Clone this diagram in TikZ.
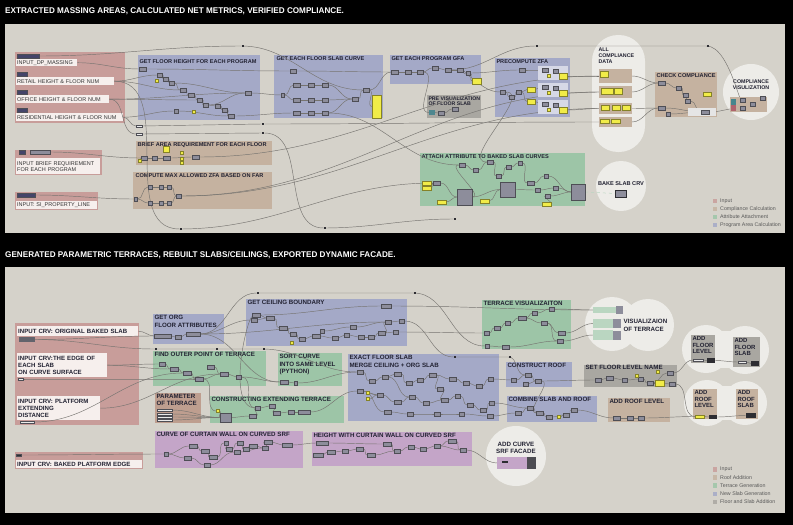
\documentclass[tikz,border=0pt]{standalone}
\usepackage{fontspec}
\setmainfont{Liberation Sans}
\newfontfamily\headfont{Liberation Sans}[FakeStretch=0.98]
\usetikzlibrary{positioning,calc}
\definecolor{canvas}{RGB}{213,210,202}
\definecolor{inpink}{RGB}{200,157,154}
\definecolor{progblue}{RGB}{164,169,199}
\definecolor{compbrown}{RGB}{197,178,160}
\definecolor{parbrown}{RGB}{190,158,143}
\definecolor{attgreen}{RGB}{157,197,167}
\definecolor{visgrey}{RGB}{169,167,161}
\definecolor{wallpurple}{RGB}{196,165,200}
\definecolor{panelyel}{RGB}{241,236,72}
\definecolor{compgrey}{RGB}{141,141,155}
\definecolor{compdark}{RGB}{45,45,50}
\definecolor{bubblec}{RGB}{237,236,232}
\definecolor{labwhite}{RGB}{246,239,237}
\definecolor{wirec}{RGB}{118,116,112}
\definecolor{titlec}{RGB}{34,34,50}
\pgfdeclarelayer{grouplayer}
\pgfdeclarelayer{wirelayer}
\pgfsetlayers{grouplayer,wirelayer,main}
\tikzset{
  grp/.style={anchor=north west,inner sep=0pt,outer sep=0pt},
  gtitle/.style={anchor=north west,inner sep=1.3pt,align=left,text=titlec,font=\bfseries\fontsize{5.6}{6.1}\selectfont},
  btitle/.style={gtitle,font=\bfseries\fontsize{6.2}{7.2}\selectfont},
  inlab/.style={anchor=north west,fill=labwhite,inner sep=1pt,align=left,text=black!80,font=\fontsize{5.5}{6}\selectfont},
  binlab/.style={inlab,text=titlec,font=\bfseries\fontsize{6.1}{7.3}\selectfont},
  comp/.style={fill=compgrey,draw=compgrey!55!black,line width=0.25pt,inner sep=0pt,minimum height=3.6pt},
  box/.style={anchor=north west,inner sep=0pt,outer sep=0pt,line width=0.25pt},
  wcomp/.style={comp,fill=white!92!black,minimum height=2.4pt},
  relay/.style={fill=compdark,inner sep=0pt,minimum width=2.6pt,minimum height=1.6pt},
  ybit/.style={fill=panelyel,draw=panelyel!55!black,line width=0.25pt,inner sep=0pt,minimum width=3.2pt,minimum height=3.2pt},
  ypanel/.style={box,fill=panelyel,draw=panelyel!55!black},
  bubble/.style={fill=bubblec,inner sep=0pt},
  wire/.style={draw=wirec,line width=0.45pt},
  dotwire/.style={draw=attgreen!70!white,dashed,line width=0.5pt},
  legbox/.style={minimum size=4.6pt,inner sep=0pt},
  legtxt/.style={anchor=west,inner sep=1pt,text=black!65,font=\fontsize{5.3}{6}\selectfont},
  headline/.style={anchor=base west,inner sep=0pt,text=white,font=\headfont\bfseries\fontsize{8.3}{9}\selectfont}
}

\begin{document}
\begin{tikzpicture}[x=1pt,y=-1pt]
  \useasboundingbox (0,0) rectangle (793,525);
  \begin{pgfonlayer}{grouplayer}
  \fill[black] (0,0) rectangle (793,525);
  \node[headline] (head1) at (5,13) {EXTRACTED MASSING AREAS, CALCULATED NET METRICS, VERIFIED COMPLIANCE.};
  \node[headline] (head2) at (5,257) {GENERATED PARAMETRIC TERRACES, REBUILT SLABS/CEILINGS, EXPORTED DYNAMIC FACADE.};
  \fill[canvas] (5,24) rectangle (785,233);
  \fill[canvas] (5,267) rectangle (785,513);

  % top canvas: groups
  \node[bubble,rounded corners=26pt,minimum width=53,minimum height=117] (gall) at (618.5,93.5) {};
  \node[bubble,circle,minimum size=56] (gcv) at (751,92) {};
  \node[bubble,circle,minimum size=50] (gbk) at (621,186) {};
  \node[grp,fill=inpink,minimum width=110,minimum height=71] (gin) at (15,52) {};
  \node[grp,fill=progblue,minimum width=122,minimum height=65] (gfh) at (138,55) {};
  \node[gtitle] (tfh) at (138,58) {GET FLOOR HEIGHT FOR EACH PROGRAM};
  \node[grp,fill=progblue,minimum width=109,minimum height=63] (gfs) at (274,55) {};
  \node[gtitle] (tfs) at (275,55) {GET EACH FLOOR SLAB CURVE};
  \node[grp,fill=progblue,minimum width=91,minimum height=29] (ggfa) at (390,55) {};
  \node[gtitle] (tgfa) at (390,55) {GET EACH PROGRAM GFA};
  \node[grp,fill=visgrey,minimum width=54,minimum height=23] (gpv) at (427,95) {};
  \node[gtitle,font=\bfseries\fontsize{5.2}{5.8}\selectfont] (tpv) at (427,95) {PRE VISUALIZATION\\OF FLOOR SLAB};
  \node[grp,fill=progblue,minimum width=75,minimum height=59] (gzfa) at (495,58) {};
  \node[gtitle] (tzfa) at (495,58) {PRECOMPUTE ZFA};
  \node[grp,fill=compbrown,minimum width=62,minimum height=45] (gcc) at (655,72) {};
  \node[gtitle] (tcc) at (655,72) {CHECK COMPLIANCE};
  \node[gtitle,font=\bfseries\fontsize{5.3}{6}\selectfont] (tall) at (597,46) {ALL\\COMPLIANCE\\DATA};
  \node[gtitle,anchor=center,align=center,font=\bfseries\fontsize{5.3}{6}\selectfont] (tcv) at (751,85) {COMPLIANCE\\VISULIZATION};
  \node[gtitle,anchor=center,font=\bfseries\fontsize{5.6}{6}\selectfont] (tbk) at (621,184) {BAKE SLAB CRV};
  \node[grp,fill=compbrown,minimum width=136,minimum height=24] (gbr) at (136,141) {};
  \node[gtitle] (tbr) at (136,141) {BRIEF AREA REQUIREMENT FOR EACH FLOOR};
  \node[grp,fill=compbrown,minimum width=139,minimum height=37] (gcz) at (133,172) {};
  \node[gtitle] (tcz) at (134,172) {COMPUTE MAX ALLOWED ZFA BASED ON FAR};
  \node[grp,fill=inpink,minimum width=87,minimum height=25] (gib) at (15,150) {};
  \node[grp,fill=inpink,minimum width=83,minimum height=18] (gip) at (15,192) {};
  \node[grp,fill=attgreen,minimum width=165,minimum height=53] (gat) at (420,153) {};
  \node[gtitle] (tat) at (420,153) {ATTACH ATTRIBUTE TO BAKED SLAB CURVES};
  % input labels
  \node[inlab,text width=59,minimum height=7] (l1) at (16,59) {INPUT\_DP\_MASSING};
  \node[inlab,text width=96,minimum height=8] (l2) at (16,77) {RETAIL HEIGHT \& FLOOR NUM};
  \node[inlab,text width=91,minimum height=8] (l3) at (16,95) {OFFICE HEIGHT \& FLOOR NUM};
  \node[inlab,text width=105,minimum height=8] (l4) at (16,113) {RESIDENTIAL HEIGHT \& FLOOR NUM};
  \node[inlab,text width=82,minimum height=16] (l5) at (16,158) {INPUT BRIEF REQUIREMENT\\FOR EACH PROGRAM};
  \node[inlab,text width=79,minimum height=8] (l6) at (16,201) {INPUT: SI\_PROPERTY\_LINE};

  % bottom canvas: groups
  \fill[bubblec] (612,305) rectangle (648,344);
  \node[bubble,circle,minimum size=54] (bvt1) at (612,324) {};
  \node[bubble,circle,minimum size=52] (bvt2) at (648,325) {};
  \fill[bubblec] (706,331) rectangle (745,368);
  \node[bubble,circle,minimum size=48] (baf1) at (706,349) {};
  \node[bubble,circle,minimum size=48] (baf2) at (745,350) {};
  \fill[bubblec] (707,386) rectangle (745,420);
  \node[bubble,circle,minimum size=46] (bas1) at (707,403) {};
  \node[bubble,circle,minimum size=44] (bas2) at (745,403) {};
  \node[bubble,circle,minimum size=60] (bac) at (516,456) {};
  \node[grp,fill=inpink,minimum width=124,minimum height=102] (bin) at (15,323) {};
  \node[grp,fill=progblue,minimum width=71,minimum height=30] (bgo) at (153,314) {};
  \node[btitle] (tgo) at (153,314) {GET ORG\\FLOOR ATTRIBUTES};
  \node[grp,fill=progblue,minimum width=161,minimum height=47] (bcb) at (246,299) {};
  \node[btitle] (tcb) at (246,299) {GET CEILING BOUNDARY};
  \node[grp,fill=attgreen,minimum width=113,minimum height=35] (bfo) at (153,351) {};
  \node[btitle] (tfo) at (153,351) {FIND OUTER POINT OF TERRACE};
  \node[grp,fill=attgreen,minimum width=64,minimum height=33] (bsc) at (278,353) {};
  \node[btitle] (tsc) at (278,353) {SORT CURVE\\INTO SAME LEVEL\\(PYTHON)};
  \node[grp,fill=progblue,minimum width=151,minimum height=67] (bef) at (348,354) {};
  \node[btitle] (tef) at (348,354) {EXACT FLOOR SLAB\\MERGE CEILING + ORG SLAB};
  \node[grp,fill=attgreen,minimum width=89,minimum height=49] (btv) at (482,300) {};
  \node[btitle] (ttv) at (482,300) {TERRACE VISUALIZAITON};
  \node[btitle] (tvt) at (622,318) {VISUALIZAION\\OF TERRACE};
  \node[grp,fill=progblue,minimum width=66,minimum height=25] (bcr) at (506,362) {};
  \node[btitle] (tcr) at (506,362) {CONSTRUCT ROOF};
  \node[grp,fill=visgrey,minimum width=93,minimum height=22] (bsf) at (584,365) {};
  \node[btitle] (tsf) at (584,364) {SET FLOOR LEVEL NAME};
  \node[grp,fill=progblue,minimum width=90,minimum height=26] (bcs) at (507,396) {};
  \node[btitle] (tcs) at (507,396) {COMBINE SLAB AND ROOF};
  \node[grp,fill=compbrown,minimum width=62,minimum height=24] (bar) at (608,398) {};
  \node[btitle] (tar) at (608,398) {ADD ROOF LEVEL};
  \node[grp,fill=parbrown,minimum width=46,minimum height=30] (bpt) at (155,393) {};
  \node[btitle] (tpt) at (155,393) {PARAMETER\\OF TERRACE};
  \node[grp,fill=attgreen,minimum width=134,minimum height=27] (bce) at (210,396) {};
  \node[btitle] (tce) at (210,396) {CONSTRUCTING EXTENDING TERRACE};
  \node[grp,fill=wallpurple,minimum width=148,minimum height=37] (bcw) at (155,431) {};
  \node[btitle] (tcw) at (155,431) {CURVE OF CURTAIN WALL ON CURVED SRF};
  \node[grp,fill=wallpurple,minimum width=160,minimum height=34] (bhc) at (312,432) {};
  \node[btitle] (thc) at (312,432) {HEIGHT WITH CURTAIN WALL ON CURVED SRF};
  \node[btitle,anchor=center,align=center] (tac) at (516,448) {ADD CURVE\\SRF FACADE};
  \node[grp,fill=inpink,minimum width=128,minimum height=17] (bpe) at (15,452) {};
  \node[grp,fill=visgrey,minimum width=24,minimum height=28] (bflv) at (691,335) {};
  \node[btitle,font=\bfseries\fontsize{6}{6.4}\selectfont] (tflv) at (691,335) {ADD\\FLOOR\\LEVEL};
  \node[grp,fill=visgrey,minimum width=27,minimum height=30] (bfsl) at (733,337) {};
  \node[btitle,font=\bfseries\fontsize{6}{6.4}\selectfont] (tfsl) at (733,337) {ADD\\FLOOR\\SLAB};
  \node[grp,fill=compbrown,minimum width=24,minimum height=30] (brlv) at (693,389) {};
  \node[btitle,font=\bfseries\fontsize{6}{6.4}\selectfont] (trlv) at (693,389) {ADD\\ROOF\\LEVEL};
  \node[grp,fill=compbrown,minimum width=22,minimum height=30] (brsl) at (736,389) {};
  \node[btitle,font=\bfseries\fontsize{6}{6.4}\selectfont] (trsl) at (736,389) {ADD\\ROOF\\SLAB};
  % input labels
  \node[binlab,text width=119,minimum height=10] (bl1) at (17,326) {INPUT CRV: ORIGINAL BAKED SLAB};
  \node[binlab,text width=88,minimum height=24] (bl2) at (17,353) {INPUT CRV:THE EDGE OF\\EACH SLAB\\ON CURVE SURFACE};
  \node[binlab,text width=81,minimum height=24] (bl3) at (17,396) {INPUT CRV: PLATFORM\\EXTENDING\\DISTANCE};
  \node[binlab,text width=124,minimum height=8] (bl4) at (16,460) {INPUT CRV: BAKED PLATFORM EDGE};

  % legends
  \foreach \k/\c/\t in {1/inpink/Input,2/compbrown/Compliance Calculation,3/attgreen/Attribute Attachment,4/progblue/Program Area Calculation}{
    \node[legbox,fill=\c!85!canvas] (lga\k) at (715,193+8*\k) {};
    \node[legtxt] (lgat\k) at (719,193+8*\k) {\t};
  }
  \foreach \k/\c/\t in {1/inpink/Input,2/compbrown/Roof Addition,3/attgreen/Terrace Generation,4/progblue/New Slab Generation,5/visgrey/Floor and Slab Addition}{
    \node[legbox,fill=\c!85!canvas] (lgb\k) at (715,461+8.2*\k) {};
    \node[legtxt] (lgbt\k) at (719,461+8.2*\k) {\t};
  }
  \end{pgfonlayer}

  % ---- top components ----
  \foreach \n/\x/\y/\w in {i1/28/56/22, i2/22/74/10, i3/22/92/10, i4/22/110/10, ib1/22/152/6, ip1/26/195/18}
    \node[comp,fill=compgrey!80!blue!60!black,minimum width=\w] (\n) at (\x,\y) {};
  \node[comp,minimum width=20] (ib2) at (40,152) {};
  \foreach \n/\x/\y in {w1/139/126, w2/139/134}
    \node[wcomp,minimum width=6] (\n) at (\x,\y) {};
  \foreach \n/\x/\y in {w3/263/124, w4/263/133, r1/181/229, r2/325/228, r3/455/219, d1/243/46, d2/537/46, d3/708/46}
    \node[relay] (\n) at (\x,\y) {};
  \foreach \n/\x/\y/\w in {fa/143/69/7, fb/160/75/5, fc/166/79/5, fd/172/83/5, fe/183/90/6, ff/191/95/6, fg/200/100/5, fh/206/105/5, fi/218/106/5, fj/225/110/5, fk/231/116/6, fl/248/93/6, fm/176/111/4,
      sa/293/71/6, sb/297/85/7, sc/311/85/6, sd/325/85/6, se/297/100/7, sf/311/100/6, sg/325/100/6, sh/297/113/7, si/311/113/6, sj/325/113/6, sk/355/99/6, sl/366/90/6, sm/283/95/3,
      ga/395/72/7, gb/408/72/6, gc/420/72/6, gd/435/68/6, ge/448/70/6, gf/460/70/6, gg/468/73/4, pa/441/113/6, pb/455/109/6,
      za/503/92/5, zb/512/97/5, zc/519/92/5, zd/522/70/6,
      ca/662/83/7, cb/679/88/5, cc/686/95/5, cd/688/101/5, ce/662/108/7, ch/668/114/4,
      ba/144/158/6, bb/155/158/5, bc/167/158/7, bd/196/157/7,
      xh/136/199/3, xa/150/187/4, xb/161/187/4, xc/169/187/4, xd/150/203/4, xe/161/203/4, xf/169/203/4, xg/179/196/5,
      ta/437/183/7, tc/462/165/6, td/476/170/5, te/490/162/6, tf/499/176/5, tg/509/167/5, th/520/163/4, ti/531/183/7, tj/546/176/4, tk/538/190/5, tl/556/188/5, tm/548/196/5}
    \node[comp,minimum width=\w] (\n) at (\x,\y) {};
  \foreach \n/\x/\y in {fy1/157/81, fy2/194/112, bi/140/161, by2/182/153, by3/182/159, by4/182/163}
    \node[ybit] (\n) at (\x,\y) {};
  \node[box,fill=teal!45!compgrey,minimum width=6,minimum height=5] (pvi) at (429,110) {};
  \node[ypanel,minimum width=9,minimum height=23] (sy) at (372,95) {};
  \node[ypanel,minimum width=9,minimum height=6] (gy) at (472,78) {};
  \node[ypanel,minimum width=6,minimum height=6] (by1) at (163,146) {};
  \node[ypanel,minimum width=8,minimum height=5] (zy1) at (527,87) {};
  \node[ypanel,minimum width=8,minimum height=5] (zy2) at (527,99) {};
  \foreach \k/\y in {1/66,2/83,3/100}{
    \node[box,fill=white!55!progblue,minimum width=30,minimum height=14] (zp\k) at (538,\y) {};
    \node[comp,minimum width=6] (zq\k) at (545,\y+4) {};
    \node[comp,minimum width=5] (zr\k) at (556,\y+5) {};
    \node[ybit] (zt\k) at (549,\y+10) {};
    \node[ypanel,minimum width=8,minimum height=6] (zs\k) at (559,\y+7) {};
  }
  % compliance data
  \node[box,fill=compbrown,minimum width=33,minimum height=14] (a1) at (599,69) {};
  \node[box,fill=compbrown,minimum width=33,minimum height=12] (a2) at (599,86) {};
  \node[box,fill=compbrown,minimum width=33,minimum height=11] (a3) at (599,103) {};
  \node[box,fill=compbrown,minimum width=33,minimum height=10] (a4) at (599,117) {};
  \foreach \n/\x/\y/\w/\h in {ay1/600/71/8/6, ay2/601/88/12/6, ay3/614/88/8/6, ay4/601/105/8/5, ay5/612/105/8/5, ay6/622/105/8/5, ay7/600/119/9/4, ay8/611/119/9/4, cy/703/92/8/4}
    \node[ypanel,minimum width=\w,minimum height=\h] (\n) at (\x,\y) {};
  \node[box,fill=white!90!black,minimum width=28,minimum height=8] (ccw) at (688,108) {};
  \node[comp,minimum width=8] (cg) at (705,112) {};
  \node[box,fill=compbrown,minimum width=37,minimum height=15] (vpan) at (730,97) {};
  \node[box,fill=teal!50!compgrey,minimum width=5,minimum height=6] (vi1) at (731,99) {};
  \node[box,fill=red!30!compgrey,minimum width=5,minimum height=6] (vi2) at (731,105) {};
  \foreach \n/\x/\y in {va2/743/100, vb2/743/108, vc2/753/104, vd2/763/98}
    \node[comp,minimum width=5] (\n) at (\x,\y) {};
  % attribute attachment
  \foreach \n/\x/\y in {ty1/422/181, ty2/422/186, ty3/437/200, ty4/480/199, ty5/542/202}
    \node[ypanel,minimum width=9,minimum height=4] (\n) at (\x,\y) {};
  \node[box,fill=compgrey,draw=compgrey!55!black,minimum width=15,minimum height=16] (tb1) at (457,189) {};
  \node[box,fill=compgrey,draw=compgrey!55!black,minimum width=15,minimum height=15] (tb2) at (500,182) {};
  \node[box,fill=compgrey,draw=compgrey!55!black,minimum width=14,minimum height=16] (tb3) at (571,184) {};
  \node[box,fill=compgrey,draw=compdark,line width=1pt,minimum width=11,minimum height=7] (bki) at (615,190) {};

  % ---- bottom components ----
  \node[box,fill=compgrey!70!black,minimum width=16,minimum height=5] (bo) at (19,337) {};
  \node[wcomp,minimum width=5] (bs2) at (21,379) {};
  \node[wcomp,minimum width=14] (bs3) at (27,422) {};
  \node[comp,fill=compdark,minimum width=5,minimum height=2.5] (bp1) at (19,455) {};
  \foreach \n/\x/\y in {q1/258/293, q2/415/293, q3/156/349, q4/217/349, q5/264/349, q6/455/357, q7/510/357}
    \node[relay] (\n) at (\x,\y) {};
  \foreach \n/\x/\y/\w in {go1/163/336/17, go2/178/337/6, go3/193/334/14,
      cb1/256/315/8, cb2/254/320/6, cb3/270/318/8, cb4/283/328/8, cb5/293/334/6, cb6/302/339/6, cb7/316/336/8, cb8/322/331/4, cb9/335/338/6, cb10/347/335/5, cb11/353/327/6, cb12/361/337/6, cb13/371/337/6, cb14/382/333/7, cb15/388/322/6, cb16/396/332/5, cb17/402/321/5, cb18/386/306/10,
      fo1/162/364/6, fo2/174/369/8, fo3/187/373/8, fo4/199/379/8, fo5/211/367/7, fo6/224/374/8, fo7/239/377/5,
      sc1/284/382/8, sc2/296/383/3,
      ef1/360/372/6, ef2/372/381/6, ef3/385/377/6, ef4/398/374/7, ef5/409/383/6, ef6/420/380/6, ef7/433/375/7, ef8/440/389/6, ef9/453/379/7, ef10/466/383/6, ef11/479/386/6, ef12/491/379/5, ef13/360/391/6, ef14/380/395/6, ef15/398/402/7, ef16/412/397/6, ef17/426/403/6, ef18/445/400/7, ef19/458/396/5, ef20/470/405/6, ef21/483/410/6, ef22/492/403/5, ef23/388/412/7, ef24/410/414/6, ef25/437/414/6, ef26/462/414/5, ef27/490/416/6,
      tv1/487/333/5, tv2/497/328/6, tv3/508/323/5, tv4/522/318/8, tv5/535/313/5, tv6/544/323/6, tv7/562/333/7, tv8/560/341/6, tv9/487/346/4, tv10/506/347/7, tv11/552/309/5,
      cr1/514/380/5, cr2/528/375/6, cr3/538/381/6, cr4/526/384/5,
      sf1/598/380/6, sf2/610/378/7, sf3/625/380/5, sf4/641/379/5, sf5/650/383/6, sf6/670/373/6, sf7/672/384/6,
      cs1/518/413/6, cs2/530/408/6, cs3/540/413/7, cs4/549/417/6, cs5/566/415/6, cs6/574/410/6,
      ar1/617/418/7, ar2/630/418/6, ar3/641/418/6,
      ce2/253/416/7, ce3/258/408/5, ce4/272/406/6, ce5/277/413/7, ce6/291/412/6, ce7/304/412/12,
      cw1/166/454/4, cw2/193/446/8, cw3/205/451/8, cw4/188/458/7, cw5/213/457/8, cw6/207/465/6, cw7/229/449/6, cw8/240/443/6, cw9/246/449/6, cw10/253/446/8, cw11/265/448/6, cw12/268/442/8, cw13/287/445/10, cw14/226/443/4, cw15/237/452/6,
      hc1/322/443/12, hc2/331/452/8, hc3/345/451/6, hc4/360/449/7, hc5/371/455/8, hc6/387/444/8, hc7/397/451/6, hc8/411/447/6, hc9/423/449/6, hc10/437/446/6, hc11/452/441/8, hc12/463/450/6, hc13/318/455/10}
    \node[comp,minimum width=\w] (\n) at (\x,\y) {};
  \foreach \n/\x/\y in {cby/292/343, efy1/368/393, efy2/368/399, sfy1/637/376, sfy2/658/372, csy/559/417, cey/218/411}
    \node[ybit] (\n) at (\x,\y) {};
  \node[ypanel,minimum width=9,minimum height=6] (sfy3) at (655,380) {};
  \node[box,fill=compgrey,draw=compgrey!55!black,minimum width=11,minimum height=9] (ce1) at (220,413) {};
  \foreach \k/\y in {1/410,2/414,3/417,4/420}
    \node[wcomp,minimum width=15,minimum height=2] (s\k) at (164.5,\y) {};
  % visualisation of terrace
  \node[box,fill=attgreen!70!white,minimum width=23,minimum height=6] (v1) at (593,307) {};
  \node[box,fill=compgrey,minimum width=7,minimum height=8] (v1b) at (616,306) {};
  \node[box,fill=attgreen!70!white,minimum width=20,minimum height=9] (v2) at (593,319) {};
  \node[box,fill=compgrey,minimum width=8,minimum height=9] (v2b) at (613,319) {};
  \node[box,fill=attgreen!70!white,minimum width=20,minimum height=10] (v3) at (593,330) {};
  \node[box,fill=compgrey,minimum width=8,minimum height=9] (v3b) at (613,331) {};
  % add level / slab
  \node[wcomp,minimum width=10] (flc) at (698,360) {};
  \node[box,fill=compdark,minimum width=8,minimum height=5] (fld) at (707,358) {};
  \node[wcomp,minimum width=8] (fsc) at (742,362) {};
  \node[box,fill=compdark,minimum width=8,minimum height=5] (fsd) at (751,361) {};
  \node[ypanel,minimum width=9,minimum height=3] (rly) at (695,415) {};
  \node[box,fill=compdark,minimum width=8,minimum height=4] (rld) at (709,415) {};
  \node[box,fill=compdark,minimum width=10,minimum height=5] (rsd) at (746,413) {};
  % curve srf facade
  \node[box,fill=wallpurple,minimum width=30,minimum height=12] (acp) at (497,457) {};
  \node[box,fill=compdark!85!white,minimum width=9,minimum height=12] (acd) at (527,457) {};
  \node[box,fill=compdark,minimum width=6,minimum height=2] (ack) at (502,461) {};

  % ---- wires ----
  \begin{pgfonlayer}{wirelayer}
  \draw[wire] (l1.east) to[out=0,in=180] (fa.west);
  \draw[wire] (i1.east) to[out=0,in=180] (d1.west) to[out=0,in=180] (sl.west);
  \draw[wire] (l2.east) to[out=0,in=180] (fb.west);
  \draw[wire] (l2.east) to[out=0,in=180] (fe.west);
  \draw[wire] (l3.east) to[out=0,in=180] (fg.west);
  \draw[wire] (l3.east) to[out=0,in=180] (fl.west);
  \draw[wire] (l4.east) to[out=0,in=180] (fm.west);
  \draw[wire] (l4.east) to[out=0,in=180] (w1.west);
  \draw[wire] (l3.east) to[out=0,in=180] (w2.west);
  \draw[wire] (w1.east) -- (w3.west);
  \draw[wire] (w2.east) -- (w4.west);
  \draw[wire] (w3.east) to[out=0,in=180] (a4.west);
  \draw[wire] (w4.east) to[out=0,in=180] (r2.west) to[out=0,in=180] (r3.west);
  \draw[wire] (l2.east) to[out=0,in=180] (r1.west) to[out=0,in=180] (ta.west);
  \draw[wire] (ge.east) to[out=0,in=180] (d2.west) -- (d3.west) to[out=0,in=-90] (va2.north);
  \draw[wire] (ib2.east) to[out=0,in=180] (ba.west);
  \draw[wire] (ip1.east) to[out=0,in=180] (xh.west);
  \draw[wire] (bd.east) to[out=0,in=180] (a1.west);
  \draw[wire] (xg.east) to[out=0,in=180] (a2.west);
  \draw[wire] (xg.east) to[out=0,in=180] (a3.west);
  \draw[wire] (sj.east) to[out=0,in=180] (tc.west);
  \draw[wire] (za.east) to[out=0,in=180] (te.west);
  \draw[wire] (sl.east) to[out=0,in=180] (sy.west);
  \draw[wire] (gg.east) to[out=0,in=180] (gy.west);
  \draw[wire] (gc.east) to[out=0,in=180] (pvi.west);
  \draw[wire] (cg.east) to[out=0,in=180] (vb2.west);
  \foreach \k in {1,2,3}{
    \draw[wire] (zq\k.east) to[out=0,in=180] (zr\k.west);
    \draw[wire] (zr\k.east) to[out=0,in=180] (zs\k.west);
    \draw[wire] (zs\k.east) to[out=0,in=180] (a\k.west);
  }
  \foreach \a/\b in {fb/fc, fc/fd, fd/fe, fe/ff, ff/fg, fg/fh, fh/fi, fi/fj, fj/fk, fm/fk, fd/fl, fh/fl,
      fa/sa, fl/sm, fk/sh, sm/sb, sm/se, sb/sc, sc/sd, se/sf, sf/sg, sh/si, si/sj, sd/sk, sg/sk, sj/sk, sk/sl, sa/ga, sl/ga,
      ga/gb, gb/gc, gc/gd, gd/ge, ge/gf, gf/gg, pvi/pa, pa/pb, ge/za, gg/zd,
      za/zb, zb/zc, zc/zy1, zc/zy2, zd/zq1, zy1/zq2, zy2/zq3,
      a1/ca, a2/ca, a3/ce, a4/ce, ca/cb, cb/cc, cc/cd, cd/cg, ce/cg, ch/cg,
      vi1/va2, vi2/vb2, va2/vc2, vb2/vc2, vc2/vd2,
      ba/bb, bb/bc, bc/bd, bi/ba,
      xh/xa, xh/xd, xa/xb, xb/xc, xc/xg, xd/xe, xe/xf, xf/xg,
      ty1/ta, ty2/ta, ta/tb1, ty3/tb1, tb1/tc, tc/td, td/te, te/tf, tf/tg, tg/th, th/ti, ti/tj, tj/tb3,
      tb1/tb2, ty4/tb2, tb2/tk, tk/tl, tl/tb3, ty5/tm, tm/tb3}
    \draw[wire] (\a.east) to[out=0,in=180] (\b.west);
  \draw[dotwire] (tb3.east) -- (bki.west);

  \draw[wire] (bo.east) to[out=0,in=180] (go1.west);
  \draw[wire] (bl1.east) to[out=0,in=180] (go1.west);
  \draw[wire] (go3.east) to[out=0,in=180] (q1.west) -- (q2.west) to[out=0,in=180] (tv9.west);
  \draw[wire] (bo.east) to[out=0,in=180] (q3.west) -- (q4.west) -- (q5.west) to[out=0,in=180] (ef1.west);
  \draw[wire] (cb17.east) to[out=0,in=180] (q6.west) -- (q7.west) to[out=0,in=180] (cr2.west);
  \draw[wire] (cb2.south) to[out=90,in=180] (ce3.west);
  \draw[wire] (cb18.east) to[out=0,in=180] (v1.west);
  \foreach \k in {1,2,3,4}
    \draw[wire] (s\k.east) to[out=0,in=180] (ce1.west);
  \foreach \a/\b in {go1/go2, go2/go3, go3/cb2, go3/cb15, go3/sc1,
      bl2/fo1, bl2/fo2, bs2/fo4, bl3/fo6, bs3/fo3,
      fo1/fo2, fo2/fo3, fo3/fo4, fo5/fo6, fo6/fo7, fo4/fo6, fo7/sc1, fo4/cey, fo7/ce3,
      cey/ce1, ce1/ce2, ce2/ce3, ce3/ce4, ce4/ce5, ce5/ce6, ce6/ce7, ce7/ef13, sc1/sc2, sc2/ef1,
      cb1/cb3, cb2/cb3, cb3/cb4, cb4/cb5, cb5/cb6, cb6/cb7, cb7/cb9, cb9/cb10, cb10/cb12, cb12/cb13, cb13/cb14, cb14/cb16, cb8/cb11, cb11/cb15, cb15/cb17, cb14/cb15, cb1/cb18,
      cb16/tv1, tv1/tv2, tv2/tv3, tv3/tv4, tv4/tv5, tv5/tv11, tv4/tv6, tv6/tv7, tv6/tv8, tv9/tv10, tv10/tv8,
      tv11/v1, tv7/v2, tv8/v3, v1/v1b, v2/v2b, v3/v3b,
      ef1/ef2, ef2/ef3, ef3/ef4, ef4/ef5, ef5/ef6, ef6/ef7, ef7/ef9, ef9/ef10, ef10/ef11, ef11/ef12, ef13/ef14, ef14/ef15, ef15/ef16, ef16/ef17, ef17/ef18, ef18/ef19, ef19/ef20, ef20/ef21, ef21/ef22, ef23/ef24, ef24/ef25, ef25/ef26, ef26/ef27, ef7/ef8, ef8/ef18, ef13/ef23, ef3/ef16, efy1/ef14, efy2/ef14,
      ef12/cr1, ef27/cs1, ef22/cs2, cr1/cr2, cr2/cr3, cr4/cr3, cr3/sf1, cr3/cs3,
      cs1/cs2, cs2/cs3, cs3/cs4, cs4/cs5, cs5/cs6, csy/cs5, cs6/ar1, ar1/ar2, ar2/ar3, ar3/rly,
      sf1/sf2, sf2/sf3, sf3/sf4, sf4/sf5, sf5/sf6, sf5/sfy3, sfy3/sf7, sf6/flc, sf7/rly,
      flc/fld, fld/fsc, fsc/fsd, rly/rld, rld/rsd,
      bp1/cw1, cw1/cw2, cw2/cw3, cw3/cw5, cw1/cw4, cw4/cw6, cw5/cw14, cw14/cw7, cw7/cw8, cw8/cw9, cw9/cw10, cw10/cw11, cw6/cw15, cw15/cw11, cw11/cw12, cw12/cw13, cw13/hc1,
      hc13/hc2, hc2/hc3, hc3/hc4, hc4/hc5, hc5/hc7, hc1/hc6, hc6/hc7, hc7/hc8, hc8/hc9, hc9/hc10, hc10/hc11, hc11/hc12, hc10/hc12, hc12/acp, ack/acd}
    \draw[wire] (\a.east) to[out=0,in=180] (\b.west);
  \end{pgfonlayer}
\end{tikzpicture}
\end{document}
